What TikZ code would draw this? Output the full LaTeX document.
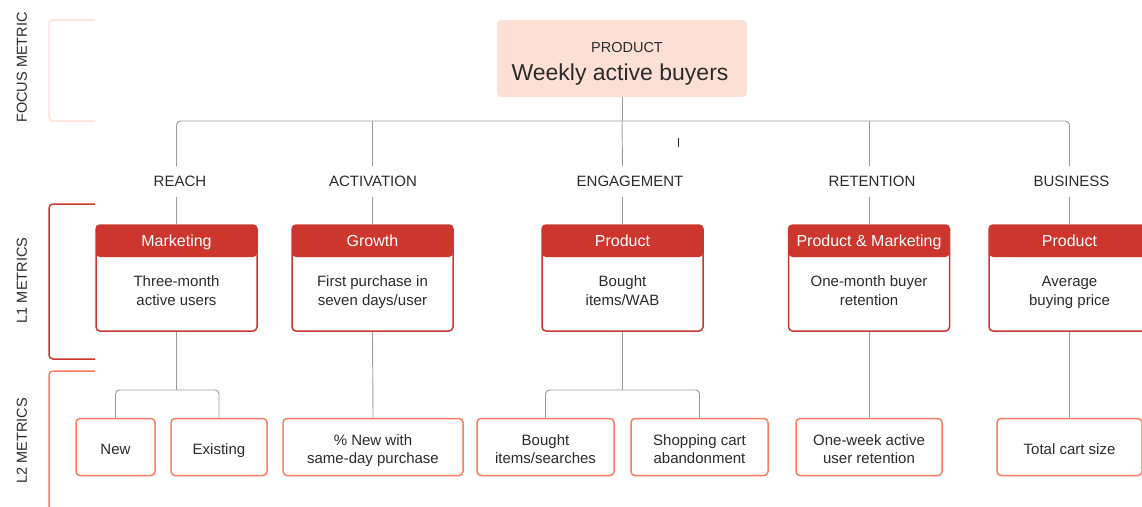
\documentclass[tikz,border=0pt]{standalone}
\usepackage{fontspec}
\setmainfont{Liberation Sans}
\usetikzlibrary{positioning}
\definecolor{l1red}{HTML}{CC362C}
\definecolor{l2orange}{HTML}{FF7B5E}
\definecolor{peach}{HTML}{FDE0D5}
\definecolor{paleframe}{HTML}{FFE2D8}
\definecolor{ink}{HTML}{2B2B2B}
\definecolor{wire}{HTML}{9B9B9B}
\tikzset{
  link/.style={draw=wire,line width=0.9pt},
  stage/.style={font=\fontsize{15}{17}\selectfont,text=ink,minimum height=30pt,inner sep=0pt},
  side/.style={font=\fontsize{14.5}{16}\selectfont,text=ink,rotate=90,inner sep=0pt},
  l1box/.style={draw=l1red,line width=1.5pt,rounded corners=4pt,minimum width=161pt,minimum height=106pt,
    path picture={\fill[l1red] (path picture bounding box.north west) rectangle ([yshift=-32pt]path picture bounding box.north east);}},
  l1head/.style={font=\fontsize{16}{18}\selectfont,text=white,inner sep=0pt,anchor=base},
  body/.style={font=\fontsize{15}{19}\selectfont,text=ink,align=center,inner sep=0pt,anchor=base},
  l2box/.style={draw=l2orange,line width=1.5pt,rounded corners=4pt,minimum height=57pt,inner sep=0pt},
  l2text/.style={font=\fontsize{15}{18.5}\selectfont,text=ink,align=center,inner sep=0pt,anchor=base},
}
\begin{document}
\begin{tikzpicture}[x=1pt,y=-1pt]
\useasboundingbox (0,0) rectangle (1142,506);
% brackets on the left
\draw[paleframe,line width=1.5pt,rounded corners=4pt] (95,20) -- (49,20) -- (49,121) -- (95,121);
\draw[l1red,line width=1.5pt,rounded corners=4pt] (95,204) -- (49,204) -- (49,359) -- (95,359);
\draw[l2orange,line width=1.5pt,rounded corners=4pt] (95,371) -- (49,371) -- (49,512);
\node[side] (focuslab) at (22,67.5) {FOCUS METRIC};
\node[side] (l1lab) at (22,280.5) {L1 METRICS};
\node[side] (l2lab) at (22,441) {L2 METRICS};
% focus metric
\node[fill=peach,rounded corners=4pt,minimum width=250pt,minimum height=77pt] (focus) at (622,58.5) {};
\node[font=\fontsize{14.5}{16}\selectfont,text=ink,inner sep=0pt,anchor=base] (focuskind) at (627,52.5) {PRODUCT};
\node[font=\fontsize{23}{26}\selectfont,text=ink,inner sep=0pt,anchor=base] (focusname) at (620,80) {Weekly active buyers};
\coordinate (hub) at (622,121);
\draw[ink,line width=0.8pt] (678,138) -- (678,147);
% stages
\node[stage] (reach) at (180,181.5) {REACH};
\node[stage] (activation) at (373,181.5) {ACTIVATION};
\node[stage] (engagement) at (630,181.5) {ENGAGEMENT};
\node[stage] (retention) at (872,181.5) {RETENTION};
\node[stage] (business) at (1071.5,181.5) {BUSINESS};
% L1 metrics
\node[l1box] (marketing) at (176.5,278) {};
\node[l1head] (marketinghead) at (176.5,246) {Marketing};
\node[body] (marketingtext) at (176.5,305.5) {Three-month\\active users};
\node[l1box] (growth) at (372.5,278) {};
\node[l1head] (growthhead) at (372.5,246) {Growth};
\node[body] (growthtext) at (372.5,305.5) {First purchase in\\seven days/user};
\node[l1box] (product) at (622.5,278) {};
\node[l1head] (producthead) at (622.5,246) {Product};
\node[body] (producttext) at (622.5,305.5) {Bought\\items/WAB};
\node[l1box] (prodmark) at (869,278) {};
\node[l1head] (prodmarkhead) at (869,246) {Product \& Marketing};
\node[body] (prodmarktext) at (869,305.5) {One-month buyer\\retention};
\node[l1box] (bizprod) at (1069.5,278) {};
\node[l1head] (bizprodhead) at (1069.5,246) {Product};
\node[body] (bizprodtext) at (1069.5,305.5) {Average\\buying price};
% L2 metrics
\node[l2box,minimum width=79pt] (new) at (115.5,447) {};
\node[l2text] (newtext) at (115.5,454) {New};
\node[l2box,minimum width=96pt] (existing) at (219,447) {};
\node[l2text] (existingtext) at (219,454) {Existing};
\node[l2box,minimum width=180pt] (sameday) at (373,447) {};
\node[l2text] (samedaytext) at (373,463.5) {\% New with\\same-day purchase};
\node[l2box,minimum width=137pt] (searches) at (545.5,447) {};
\node[l2text] (searchestext) at (545.5,463.5) {Bought\\items/searches};
\node[l2box,minimum width=137pt] (abandon) at (699.5,447) {};
\node[l2text] (abandontext) at (699.5,463.5) {Shopping cart\\abandonment};
\node[l2box,minimum width=146pt] (weekret) at (869,447) {};
\node[l2text] (weekrettext) at (869,463.5) {One-week active\\user retention};
\node[l2box,minimum width=145pt] (cartsize) at (1069.5,447) {};
\node[l2text] (cartsizetext) at (1069.5,454) {Total cart size};
% connectors from the focus metric
\draw[link] (focus.south) -- (hub);
\draw[link,rounded corners=4pt] (marketing.north |- reach.north) -- (marketing.north |- hub) -- (bizprod.north |- hub) -- (bizprod.north |- business.north);
\draw[link] (growth.north |- hub) -- (growth.north |- activation.north);
\draw[link] (hub) -- (product.north |- engagement.north);
\draw[link] (prodmark.north |- hub) -- (prodmark.north |- retention.north);
% stages to L1
\draw[link] (marketing.north |- reach.south) -- (marketing.north);
\draw[link] (growth.north |- activation.south) -- (growth.north);
\draw[link] (product.north |- engagement.south) -- (product.north);
\draw[link] (prodmark.north |- retention.south) -- (prodmark.north);
\draw[link] (bizprod.north |- business.south) -- (bizprod.north);
% L1 to L2
\coordinate (reachfork) at (176.5,390);
\coordinate (engfork) at (622.5,390);
\draw[link] (marketing.south) -- (reachfork);
\draw[link,rounded corners=4pt] (new.north) -- (new.north |- reachfork) -- (existing.north |- reachfork) -- (existing.north);
\draw[link] (growth.south) -- (sameday.north);
\draw[link] (product.south) -- (engfork);
\draw[link,rounded corners=4pt] (searches.north) -- (searches.north |- engfork) -- (abandon.north |- engfork) -- (abandon.north);
\draw[link] (prodmark.south) -- (weekret.north);
\draw[link] (bizprod.south) -- (cartsize.north);
\end{tikzpicture}
\end{document}
